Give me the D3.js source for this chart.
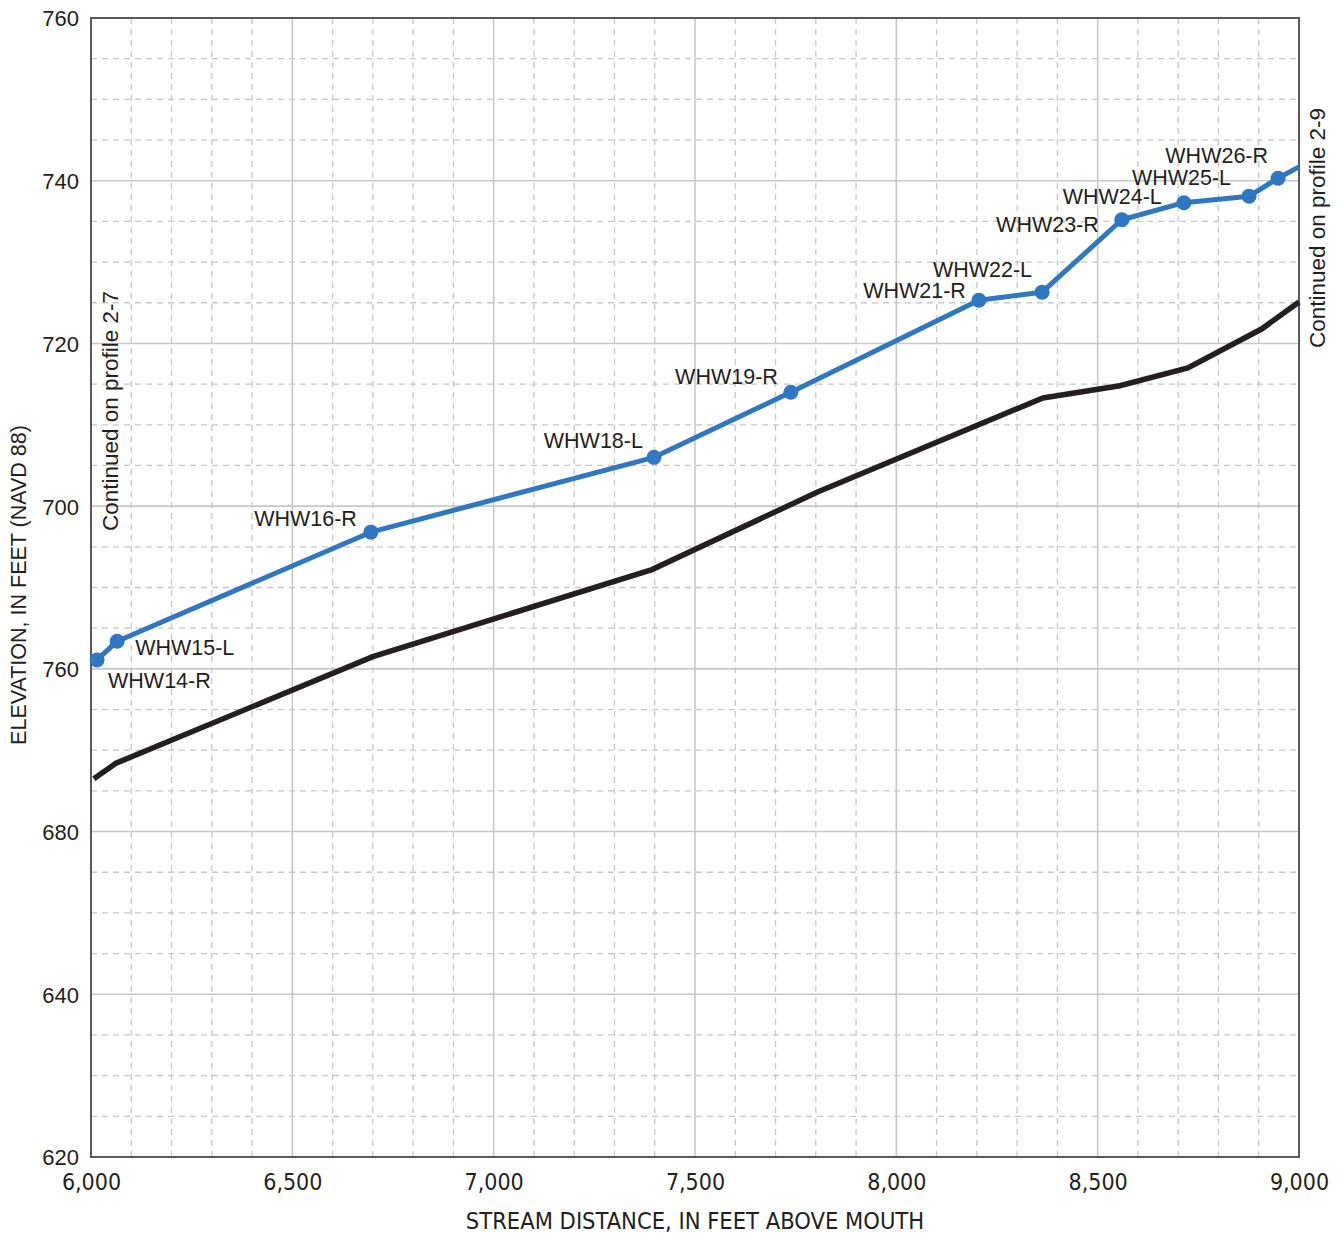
<!DOCTYPE html>
<html>
<head>
<meta charset="utf-8">
<script src="https://cdn.jsdelivr.net/npm/d3@7"></script>
<style>
  html, body { margin: 0; padding: 0; background: #fff; }
  svg { display: block; }
  text { fill: #231f20; }
</style>
</head>
<body>
<svg id="chart" width="1340" height="1237"></svg>
<script>
// Water-surface profile: high-water marks (stream distance, elevation)
const hwmNames = ["WHW14-R", "WHW15-L", "WHW16-R", "WHW18-L", "WHW19-R", "WHW21-R",
                  "WHW22-L", "WHW23-R", "WHW24-L", "WHW25-L", "WHW26-R"];
const hwmDistance = [6015, 6065, 6695, 7398, 7738, 8205, 8362, 8560, 8714, 8876, 8948];
const hwmElevation = [681.1, 683.4, 696.8, 706.0, 714.0, 725.3, 726.3, 735.2, 737.3, 738.1, 740.3];

// Water surface continues to the end of the reach
const surfaceEndDistance = 9000;
const surfaceEndElevation = 741.7;

// Streambed profile
const bedDistance = [6007, 6062, 6700, 7393, 7803, 8364, 8555, 8724, 8908, 9000];
const bedElevation = [666.5, 668.4, 681.5, 692.2, 701.7, 713.3, 714.8, 717.0, 721.8, 725.1];

// Axis ticks and the labels printed on them
const xTickValues = [6000, 6500, 7000, 7500, 8000, 8500, 9000];
const xTickLabels = ["6,000", "6,500", "7,000", "7,500", "8,000", "8,500", "9,000"];
const yTickValues = [620, 640, 660, 680, 700, 720, 740, 760];
const yTickLabels = ["620", "640", "680", "760", "700", "720", "740", "760"];

// Label placement for each high-water mark: [anchor, dx, dy]
const hwmLabelPlacement = [
  ["start", 11, 28], ["start", 18, 14], ["end", -14, -6], ["end", -11, -9],
  ["end", -13, -8], ["end", -13, -2], ["end", -10, -15], ["end", -23, 12],
  ["end", -22, 1], ["end", -18, -11], ["end", -10, -15]
];

const margin = { left: 91, right: 41, top: 18, bottom: 80 };
const W = 1340, H = 1237;
const svg = d3.select("#chart");

const x = d3.scaleLinear().domain([6000, 9000]).range([margin.left, W - margin.right]);
const y = d3.scaleLinear().domain([620, 760]).range([H - margin.bottom, margin.top]);

const plotLeft = x.range()[0], plotRight = x.range()[1];
const plotTop = y.range()[1], plotBottom = y.range()[0];

const gridColor = "#c8c8c8";
const font = "'Liberation Sans', Arial, Helvetica, sans-serif";
const narrowFont = "'Liberation Sans Narrow', 'Arial Narrow', 'DejaVu Sans Condensed', sans-serif";

// Minor dashed grid
const grid = svg.append("g");
grid.selectAll("line.vminor")
  .data(d3.range(6100, 9000, 100).filter(v => v % 500 !== 0))
  .join("line")
  .attr("x1", d => x(d)).attr("x2", d => x(d))
  .attr("y1", plotTop).attr("y2", plotBottom)
  .attr("stroke", gridColor).attr("stroke-width", 1.3)
  .attr("stroke-dasharray", "6,5");
grid.selectAll("line.hminor")
  .data(d3.range(625, 760, 5).filter(v => v % 20 !== 0))
  .join("line")
  .attr("x1", plotLeft).attr("x2", plotRight)
  .attr("y1", d => y(d)).attr("y2", d => y(d))
  .attr("stroke", gridColor).attr("stroke-width", 1.3)
  .attr("stroke-dasharray", "6,5");

// Major solid grid
grid.selectAll("line.vmajor")
  .data(xTickValues.slice(1, -1))
  .join("line")
  .attr("x1", d => x(d)).attr("x2", d => x(d))
  .attr("y1", plotTop).attr("y2", plotBottom)
  .attr("stroke", gridColor).attr("stroke-width", 1.6);
grid.selectAll("line.hmajor")
  .data(yTickValues.slice(1, -1))
  .join("line")
  .attr("x1", plotLeft).attr("x2", plotRight)
  .attr("y1", d => y(d)).attr("y2", d => y(d))
  .attr("stroke", gridColor).attr("stroke-width", 1.6);

// Plot frame
svg.append("rect")
  .attr("x", plotLeft).attr("y", plotTop)
  .attr("width", plotRight - plotLeft).attr("height", plotBottom - plotTop)
  .attr("fill", "none").attr("stroke", "#58595b").attr("stroke-width", 2);

// Axes (labels only; the frame draws the axis lines)
const xAxis = d3.axisBottom(x).tickValues(xTickValues).tickSize(0)
  .tickFormat((d, i) => xTickLabels[i]);
const gx = svg.append("g").attr("transform", `translate(0,${plotBottom})`).call(xAxis);
gx.select(".domain").remove();
gx.selectAll("text")
  .attr("dy", "0").attr("y", 33)
  .style("font-family", narrowFont).style("font-size", "23px").style("fill", "#231f20");

const yAxis = d3.axisLeft(y).tickValues(yTickValues).tickSize(0)
  .tickFormat((d, i) => yTickLabels[i]);
const gy = svg.append("g").attr("transform", `translate(${plotLeft},0)`).call(yAxis);
gy.select(".domain").remove();
gy.selectAll("text")
  .attr("x", -12).attr("dy", "0.36em")
  .style("font-family", font).style("font-size", "22px").style("fill", "#231f20");

// Axis titles
svg.append("text")
  .attr("x", 695).attr("y", 1229)
  .attr("text-anchor", "middle")
  .style("font-family", narrowFont).style("font-size", "23.5px")
  .text("STREAM DISTANCE, IN FEET ABOVE MOUTH");
svg.append("text")
  .attr("transform", `translate(26,${585}) rotate(-90)`)
  .attr("text-anchor", "middle")
  .style("font-family", font).style("font-size", "21.5px")
  .text("ELEVATION, IN FEET (NAVD 88)");

// Continuation notes
svg.append("text")
  .attr("transform", `translate(${plotLeft + 27},${411}) rotate(-90)`)
  .attr("text-anchor", "middle")
  .style("font-family", font).style("font-size", "22.5px")
  .text("Continued on profile 2-7");
svg.append("text")
  .attr("transform", `translate(${plotRight + 26},${228}) rotate(-90)`)
  .attr("text-anchor", "middle")
  .style("font-family", font).style("font-size", "22.5px")
  .text("Continued on profile 2-9");

// Streambed line
const bed = bedDistance.map((d, i) => [d, bedElevation[i]]);
const line = d3.line().x(d => x(d[0])).y(d => y(d[1]));
svg.append("path")
  .datum(bed)
  .attr("d", line)
  .attr("fill", "none").attr("stroke", "#231f20").attr("stroke-width", 5.5)
  .attr("stroke-linejoin", "miter");

// Water-surface line through the high-water marks
const blue = "#2f78c1";
const marks = hwmDistance.map((d, i) => ({
  name: hwmNames[i], dist: d, elev: hwmElevation[i], place: hwmLabelPlacement[i]
}));
const surface = marks.map(m => [m.dist, m.elev]).concat([[surfaceEndDistance, surfaceEndElevation]]);
svg.append("path")
  .datum(surface)
  .attr("d", line)
  .attr("fill", "none").attr("stroke", blue).attr("stroke-width", 5)
  .attr("stroke-linejoin", "round");

svg.selectAll("circle.hwm")
  .data(marks)
  .join("circle")
  .attr("cx", d => x(d.dist)).attr("cy", d => y(d.elev))
  .attr("r", 7.5).attr("fill", blue);

svg.selectAll("text.hwm")
  .data(marks)
  .join("text")
  .attr("x", d => x(d.dist) + d.place[1])
  .attr("y", d => y(d.elev) + d.place[2])
  .attr("text-anchor", d => d.place[0])
  .style("font-family", font).style("font-size", "21.5px")
  .text(d => d.name);
</script>
</body>
</html>
